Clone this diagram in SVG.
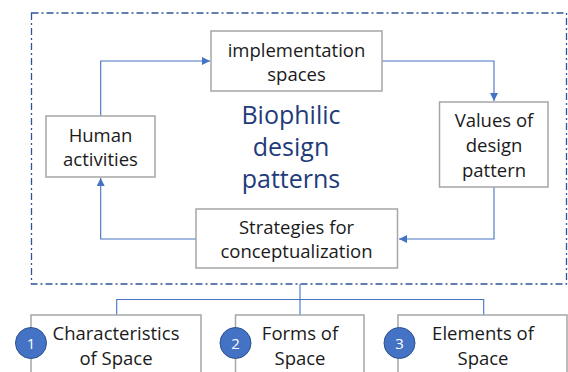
<svg xmlns="http://www.w3.org/2000/svg" width="568" height="372" viewBox="0 0 568 372">
<defs>
<style>
.box{fill:#fff;stroke:#a6a6a6;stroke-width:1.5}
.lbl{font-family:"Open Sans","Noto Sans",sans-serif;font-size:18.5px;fill:#1a1a1a;text-anchor:middle}
.title{font-family:"Open Sans","Noto Sans",sans-serif;font-size:25px;fill:#1f3b7a;text-anchor:middle}
.con{fill:none;stroke:#4472c4;stroke-width:1.1}
.num{fill:#4472c4;stroke:#2f528f;stroke-width:1}
.numt{font-family:"Open Sans","Noto Sans",sans-serif;font-size:15px;fill:#fff;text-anchor:middle}
</style>
<marker id="arr" viewBox="0 0 10 10" refX="10" refY="5" markerWidth="8" markerHeight="8" markerUnits="userSpaceOnUse" orient="auto">
<path d="M0,0 L10,5 L0,10 z" fill="#4472c4"/>
</marker>
</defs>
<rect width="568" height="372" fill="#fff"/>
<rect id="frame" x="31.5" y="13" width="535" height="271" fill="none" stroke="#2f5597" stroke-width="1.3" stroke-dasharray="7,3,2,3"/>
<g id="connectors">
<path class="con" d="M100.7,116 V61 H210" marker-end="url(#arr)"/>
<path class="con" d="M382,61 H494 V101" marker-end="url(#arr)"/>
<path class="con" d="M494,187 V239 H399" marker-end="url(#arr)"/>
<path class="con" d="M196,239 H100.7 V178" marker-end="url(#arr)"/>
<path class="con" d="M300,284 V315 M116.7,315 V299.5 H483.7 V315"/>
</g>
<g id="title"><text class="title" x="291" y="124">Biophilic</text><text class="title" x="291" y="156">design</text><text class="title" x="291" y="188">patterns</text></g>
<g id="impl"><rect class="box" x="211" y="31" width="171" height="60"/><text class="lbl" x="296.5" y="56.5">implementation</text><text class="lbl" x="296.5" y="81">spaces</text></g>
<g id="human"><rect class="box" x="46" y="116" width="109" height="61"/><text class="lbl" x="100.5" y="141.5">Human</text><text class="lbl" x="100.5" y="165.5">activities</text></g>
<g id="values"><rect class="box" x="439.5" y="102" width="108.5" height="85"/><text class="lbl" x="494" y="126.5">Values of</text><text class="lbl" x="494" y="152">design</text><text class="lbl" x="494" y="176.5">pattern</text></g>
<g id="strategies"><rect class="box" x="196" y="209" width="201.5" height="59"/><text class="lbl" x="296.5" y="233.5">Strategies for</text><text class="lbl" x="296.5" y="257.5">conceptualization</text></g>
<g id="char"><rect class="box" x="31" y="315" width="170" height="70"/><text class="lbl" x="116" y="339.5">Characteristics</text><text class="lbl" x="116" y="364.5">of Space</text><circle class="num" cx="31" cy="343" r="15.5"/><text class="numt" x="31" y="348.5">1</text></g>
<g id="forms"><rect class="box" x="235.5" y="315" width="128.5" height="70"/><text class="lbl" x="300" y="339.5">Forms of</text><text class="lbl" x="300" y="364.5">Space</text><circle class="num" cx="235.5" cy="343" r="15.5"/><text class="numt" x="235.5" y="348.5">2</text></g>
<g id="elements"><rect class="box" x="398" y="315" width="169" height="70"/><text class="lbl" x="483" y="339.5">Elements of</text><text class="lbl" x="483" y="364.5">Space</text><circle class="num" cx="399.5" cy="343" r="15.5"/><text class="numt" x="399.5" y="348.5">3</text></g>
</svg>
